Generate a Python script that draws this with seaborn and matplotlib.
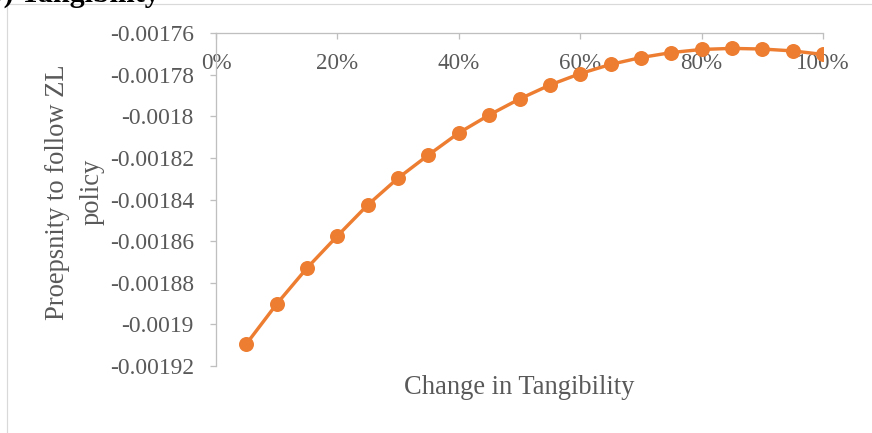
import matplotlib
matplotlib.use("Agg")
import matplotlib.pyplot as plt
from matplotlib.patches import Rectangle
import seaborn as sns
import pandas as pd

# Change in tangibility (share) and the resulting propensity to follow the ZL policy
tangibility_change = [0.05, 0.10, 0.15, 0.20, 0.25, 0.30, 0.35, 0.40, 0.45, 0.50,
                      0.55, 0.60, 0.65, 0.70, 0.75, 0.80, 0.85, 0.90, 0.95, 1.00]
propensity = [-0.0019094, -0.0018902, -0.0018729, -0.0018575, -0.0018426,
              -0.0018297, -0.0018186, -0.0018080, -0.0017994, -0.0017917,
              -0.0017850, -0.0017795, -0.0017751, -0.0017718, -0.0017694,
              -0.0017679, -0.0017674, -0.0017677, -0.0017686, -0.0017703]

x_ticks = [0.0, 0.2, 0.4, 0.6, 0.8, 1.0]
x_tick_labels = ["0%", "20%", "40%", "60%", "80%", "100%"]
y_ticks = [-0.00176, -0.00178, -0.0018, -0.00182, -0.00184,
           -0.00186, -0.00188, -0.0019, -0.00192]
y_tick_labels = ["-0.00176", "-0.00178", "-0.0018", "-0.00182", "-0.00184",
                 "-0.00186", "-0.00188", "-0.0019", "-0.00192"]

df = pd.DataFrame({"change": tangibility_change, "propensity": propensity})

sns.set_style("white")
plt.rcParams["font.family"] = ["Liberation Serif", "DejaVu Serif"]

W, H, DPI = 872, 433, 72
fig = plt.figure(figsize=(W / DPI, H / DPI), dpi=DPI)

# plot area in pixel coordinates
left, right, top, bottom = 216, 823, 33, 366
ax = fig.add_axes([left / W, 1 - bottom / H, (right - left) / W, (bottom - top) / H])

ORANGE = "#ED7D31"
GREY_TXT = "#595959"
GREY_AX = "#BFBFBF"

sns.lineplot(data=df, x="change", y="propensity", ax=ax, color=ORANGE,
             linewidth=3.4, marker="o", markersize=15, markeredgewidth=0)

ax.set_xlim(0, 1)
ax.set_ylim(-0.00192, -0.00176)
ax.set_xticks(x_ticks)
ax.set_xticklabels(x_tick_labels)
ax.set_yticks(y_ticks)
ax.set_yticklabels(y_tick_labels)

for side in ("right", "bottom"):
    ax.spines[side].set_visible(False)
for side in ("left", "top"):
    ax.spines[side].set_color(GREY_AX)
    ax.spines[side].set_linewidth(1.3)

# category axis runs along the top, labels sit just under it
ax.tick_params(axis="x", bottom=False, labelbottom=False, top=True, labeltop=True,
               direction="in", length=6, width=1.3, color=GREY_AX,
               pad=-41, labelsize=23, labelcolor=GREY_TXT)
ax.tick_params(axis="y", left=True, direction="out", length=6, width=1.3,
               color=GREY_AX, pad=16, labelsize=23.5, labelcolor=GREY_TXT)

ax.set_xlabel("Change in Tangibility", fontsize=26.5, color=GREY_TXT)
ax.xaxis.set_label_position("bottom")
ax.xaxis.set_label_coords(0.5, (bottom - 375) / (bottom - top))

ax.set_ylabel("Proepsnity to follow ZL\npolicy", fontsize=26.5, color=GREY_TXT,
              linespacing=1.55)
ax.yaxis.set_label_coords((105 - left) / (right - left), (bottom - 192) / (bottom - top))

ax.grid(False)
ax.set_facecolor("white")

# chart area frame
fig.add_artist(Rectangle((7 / W, -0.05), 1.1, 1 - 4 / H + 0.05,
                         transform=fig.transFigure, fill=False,
                         edgecolor="#D9D9D9", linewidth=1.2))

# caption line above the chart
fig.text(160 / W, 1 - 2 / H, "(b) Tangibility", ha="right", va="baseline",
         fontsize=30, fontweight="bold", color="black")

fig.savefig("out.png", dpi=DPI, facecolor="white")
